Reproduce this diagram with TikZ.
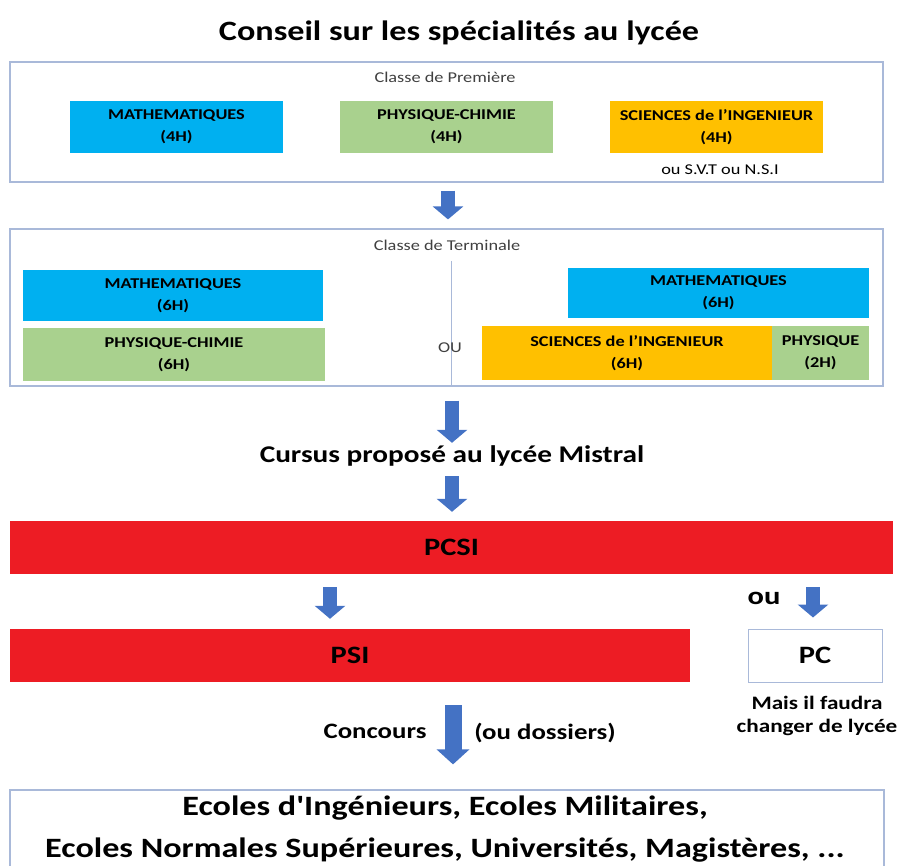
\documentclass[tikz,border=0pt]{standalone}
\usepackage{fontspec}
\setmainfont{Carlito}[FakeStretch=1.22, Ligatures=TeXOff]
\usetikzlibrary{arrows.meta}

\definecolor{cyanbox}{HTML}{00B0F0}
\definecolor{vertbox}{HTML}{A9D18E}
\definecolor{orangebox}{HTML}{FFC000}
\definecolor{rougebox}{HTML}{ED1C24}
\definecolor{bleufleche}{HTML}{4472C4}
\definecolor{bord}{HTML}{A9B9D9}
\definecolor{gristexte}{HTML}{404040}

\tikzset{
  cadre/.style={draw=bord, line width=1.2pt, inner sep=0pt},
  matiere/.style={font=\bfseries\fontsize{15}{22}\selectfont, align=center, inner sep=0pt},
  bande/.style={fill=rougebox, inner sep=0pt, font=\bfseries\fontsize{25}{28}\selectfont},
  fleche/.style={line width=14pt, color=bleufleche, -{Triangle[width=30pt,length=13pt]}},
  petit/.style={font=\fontsize{15}{17}\selectfont, text=gristexte, inner sep=0pt},
}

\begin{document}
\begin{tikzpicture}[x=1pt, y=-1pt]
\useasboundingbox (0,0) rectangle (902,866);
% titre
\node [font=\bfseries\fontsize{28}{32}\selectfont] (titre) at (459,33) {Conseil sur les spécialités au lycée};
% classe de premiere
\node [cadre, minimum width=873pt, minimum height=120pt] (premiere) at (446.5,122) {};
\node [petit] (lblpremiere) at (445,77) {Classe de Première};
\node [matiere, fill=cyanbox, minimum width=213pt, minimum height=52pt] (mathA) at (176.5,127) {MATHEMATIQUES\\(4H)};
\node [matiere, fill=vertbox, minimum width=213pt, minimum height=52pt] (pcA) at (446.5,127) {PHYSIQUE-CHIMIE\\(4H)};
\node [matiere, fill=orangebox, minimum width=213pt, minimum height=52pt] (siA) at (716.5,127) {SCIENCES de l’INGENIEUR\\(4H)};
\node [petit, text=black] (autres) at (720,170) {ou S.V.T ou N.S.I};
% classe de terminale
\node [cadre, minimum width=873pt, minimum height=157pt] (terminale) at (446.5,307.5) {};
\node [petit] (lblterminale) at (447,245) {Classe de Terminale};
\coordinate (sepA) at (451,261);
\draw [draw=bord, line width=0.8pt] (sepA) -- (sepA |- terminale.south);
\node [matiere, fill=cyanbox, minimum width=300pt, minimum height=51pt] (mathB) at (173,295.5) {MATHEMATIQUES\\(6H)};
\node [matiere, fill=vertbox, minimum width=302pt, minimum height=53pt] (pcB) at (174,354.5) {PHYSIQUE-CHIMIE\\(6H)};
\node [petit] (ou1) at (450,348) {OU};
\node [matiere, fill=cyanbox, minimum width=301pt, minimum height=50pt] (mathC) at (718.5,293) {MATHEMATIQUES\\(6H)};
\node [matiere, fill=orangebox, minimum width=290pt, minimum height=54pt] (siC) at (627,353) {SCIENCES de l’INGENIEUR\\(6H)};
\node [matiere, fill=vertbox, minimum width=97pt, minimum height=54pt] (phC) at (820.5,353) {PHYSIQUE\\(2H)};
% cursus
\node [font=\bfseries\fontsize{24}{26}\selectfont, inner sep=0pt, text height=17pt, text depth=5pt] (cursus) at (452,456) {Cursus proposé au lycée Mistral};
\node [bande, minimum width=883pt, minimum height=53pt] (pcsi) at (451.5,547.5) {PCSI};
\node [bande, minimum width=680pt, minimum height=53pt] (psi) at (350,655.5) {PSI};
\node [cadre, line width=1pt, minimum width=134pt, minimum height=53pt, font=\bfseries\fontsize{25}{28}\selectfont] (pc) at (815,655.5) {PC};
\node [font=\bfseries\fontsize{25}{28}\selectfont, inner sep=0pt] (ou2) at (764,598) {ou};
\node [font=\bfseries\fontsize{19}{23}\selectfont, align=center, inner sep=0pt] (lycee) at (817,716) {Mais il faudra\\changer de lycée};
\node [font=\bfseries\fontsize{22}{24}\selectfont, inner sep=0pt] (concours) at (375,731) {Concours};
\node [font=\bfseries\fontsize{22}{24}\selectfont, inner sep=0pt] (dossiers) at (545,733) {(ou dossiers)};
\node [cadre, minimum width=874pt, minimum height=90pt] (ecoles) at (447,835) {};
\node [font=\bfseries\fontsize{28}{42}\selectfont, align=center, inner sep=0pt] (ecolestxt) at (445,829) {Ecoles d'Ingénieurs, Ecoles Militaires,\\Ecoles Normales Supérieures, Universités, Magistères, ...};
% fleches
\coordinate (xA) at (448,0);
\coordinate (xB) at (330,0);
\coordinate (xC) at (813,0);
\coordinate (xD) at (453,0);
\draw [fleche, shorten <=8pt, shorten >=9pt] (premiere.south -| xA) -- (terminale.north -| xA);
\draw [fleche, shorten <=14pt, shorten >=2pt] (terminale.south -| cursus) -- (cursus.north);
\draw [fleche, shorten <=9pt, shorten >=9pt] (cursus.south) -- (pcsi.north -| cursus);
\draw [fleche, shorten <=13pt, shorten >=10pt] (pcsi.south -| xB) -- (psi.north -| xB);
\draw [fleche, shorten <=13pt, shorten >=11pt] (pcsi.south -| xC) -- (pc.north -| xC);
\draw [fleche, line width=17pt, -{Triangle[width=32pt,length=15pt]}, shorten <=23pt, shorten >=25pt] (psi.south -| xD) -- (ecoles.north -| xD);
\end{tikzpicture}
\end{document}
